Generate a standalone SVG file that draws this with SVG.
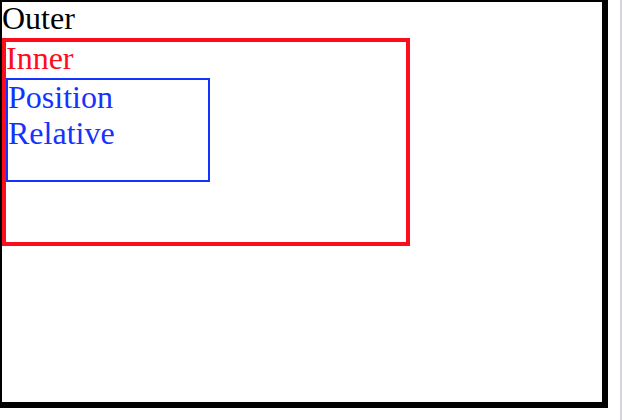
<svg xmlns="http://www.w3.org/2000/svg" width="622" height="420" viewBox="0 0 622 420">
  <style>
    .label { font-family: "Liberation Serif", "Times New Roman", serif; font-size: 32px; }
    .outer-text { fill: #000000; }
    .inner-text { fill: #fc0d1b; }
    .pos-text { fill: #1433ff; }
  </style>
  <rect x="0" y="0" width="622" height="420" fill="#ffffff"/>
  <!-- scrollbar edge -->
  <rect x="620" y="0" width="2" height="420" fill="#d6d6da"/>

  <g id="outer">
    <!-- thin top/left, thick right/bottom borders -->
    <rect x="0" y="0" width="608" height="2" fill="#000"/>
    <rect x="0" y="0" width="2" height="408" fill="#000"/>
    <rect x="602" y="0" width="6" height="408" fill="#000"/>
    <rect x="0" y="402" width="608" height="6" fill="#000"/>
    <text class="label outer-text" x="2" y="29">Outer</text>
  </g>

  <g id="inner">
    <rect x="4" y="40" width="404" height="204" fill="none" stroke="#fc0d1b" stroke-width="4"/>
    <text class="label inner-text" x="6" y="69">Inner</text>
  </g>

  <g id="position-relative">
    <rect x="7" y="79" width="202" height="102" fill="none" stroke="#1433ff" stroke-width="2"/>
    <text class="label pos-text" x="8" y="108">Position</text>
    <text class="label pos-text" x="8" y="144">Relative</text>
  </g>

  <g id="connectors"></g>
</svg>
